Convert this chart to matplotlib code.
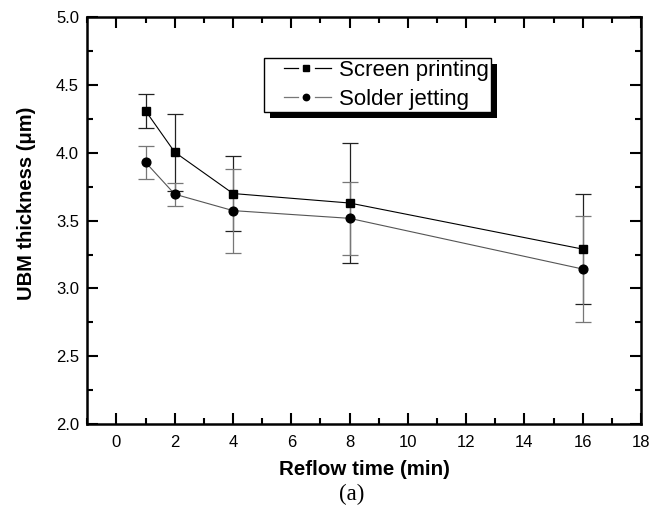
import matplotlib
matplotlib.use("Agg")
import matplotlib.pyplot as plt
from matplotlib.ticker import MultipleLocator
from matplotlib.lines import Line2D
from matplotlib.patches import Rectangle
from matplotlib.transforms import IdentityTransform

# reflow time (min)
reflow_time = [1, 2, 4, 8, 16]

# UBM thickness (um) and error bars
screen_printing = [4.31, 4.005, 3.70, 3.63, 3.29]
screen_err = [0.125, 0.285, 0.275, 0.445, 0.403]
solder_jetting = [3.93, 3.695, 3.574, 3.517, 3.143]
solder_err = [0.12, 0.085, 0.31, 0.27, 0.39]

plt.rcParams['font.family'] = ['Liberation Sans', 'DejaVu Sans']


class BrokenLineHandler:
    """legend key like Origin: short line, gap, marker, gap, short line"""

    def __init__(self, color, marker, ms):
        self.color = color
        self.marker = marker
        self.ms = ms

    def legend_artist(self, legend, orig_handle, fontsize, handlebox):
        x0 = -handlebox.xdescent
        w = handlebox.width
        y = -handlebox.ydescent + handlebox.height / 2.0
        tr = handlebox.get_transform()
        f = lambda px: x0 + w * px / 64.6
        for a, b in [(17.6, 31.0), (48.6, 64.6)]:
            seg = Line2D([f(a), f(b)], [y, y], color=self.color, lw=0.9,
                         transform=tr)
            handlebox.add_artist(seg)
        mk = Line2D([f(39.8)], [y], ls='none', marker=self.marker,
                    markersize=self.ms, color='black', transform=tr)
        handlebox.add_artist(mk)
        return mk


fig = plt.figure(figsize=(6.65, 5.18), dpi=100)
ax = fig.add_axes([0.1313, 0.1815, 0.8326, 0.7851])

l1 = ax.errorbar(reflow_time, screen_printing, yerr=screen_err, color='black',
                 marker='s', markersize=5.8, lw=0.8, elinewidth=0.9,
                 ecolor='#222222', capsize=5.5, capthick=0.9, zorder=3)
l2 = ax.errorbar(reflow_time, solder_jetting, yerr=solder_err, color='#555555',
                 mfc='black', mec='black', marker='o', markersize=6.3, lw=0.8,
                 elinewidth=0.9, ecolor='#777777', capsize=5.5, capthick=0.9,
                 zorder=3)

ax.set_xlim(-1, 18)
ax.set_ylim(2.0, 5.0)
ax.xaxis.set_major_locator(MultipleLocator(2))
ax.xaxis.set_minor_locator(MultipleLocator(1))
ax.yaxis.set_major_locator(MultipleLocator(0.5))
ax.yaxis.set_minor_locator(MultipleLocator(0.25))
ax.tick_params(which='both', direction='in', top=True, right=True,
               width=1.5, labelsize=12)
ax.tick_params(axis='x', which='major', pad=8)
ax.tick_params(axis='y', which='major', pad=6)
ax.tick_params(which='major', length=8)
ax.tick_params(which='minor', length=4)
for s in ax.spines.values():
    s.set_linewidth(1.8)

ax.set_xlabel('Reflow time (min)', fontsize=14.8, fontweight='bold', labelpad=7)
ax.set_ylabel('UBM thickness (\u03bcm)', fontsize=14.5, fontweight='bold')
ax.yaxis.set_label_coords(-0.092, 0.542)

labels = ['Screen printing', 'Solder jetting']
leg = ax.legend([l1, l2], labels, loc='upper left',
                bbox_to_anchor=(0.3198, 0.9), fontsize=16, frameon=True,
                fancybox=False, handlelength=2.91, borderpad=0.1,
                labelspacing=0.35, handletextpad=0.36, borderaxespad=0,
                handler_map={l1: BrokenLineHandler('black', 's', 4.0),
                             l2: BrokenLineHandler('#777777', 'o', 4.6)})
frame = leg.get_frame()
frame.set_edgecolor('black')
frame.set_linewidth(1.0)
frame.set_alpha(1.0)

# offset black shadow behind the legend box
fig.canvas.draw()
bb = frame.get_window_extent()
shadow = Rectangle((bb.x0 + 6, bb.y0 - 6), bb.width, bb.height,
                   transform=IdentityTransform(), facecolor='black',
                   edgecolor='none', zorder=4.9, clip_on=False)
ax.add_artist(shadow)

fig.text(0.529, 0.0463, '(a)', fontsize=16.5, family=['Liberation Serif'],
         ha='center', va='center')

fig.savefig('out.png', dpi=100)
